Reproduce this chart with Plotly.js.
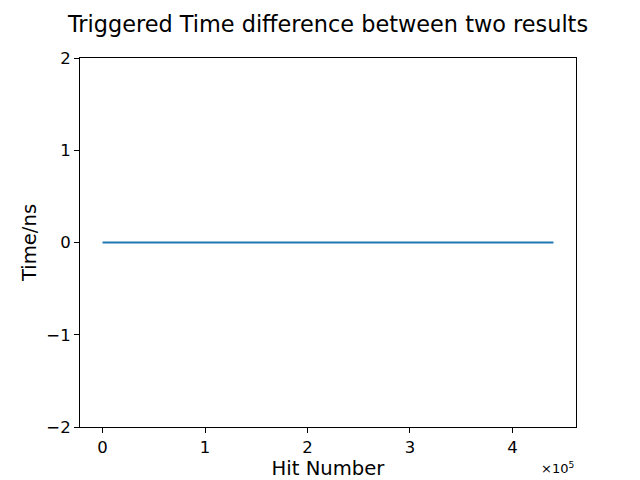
<!DOCTYPE html>
<html>
<head>
<meta charset="utf-8">
<script src="https://cdn.plot.ly/plotly-3.0.1.min.js"></script>
<style>html,body{margin:0;padding:0;background:#fff;}#chart{width:640px;height:480px;}</style>
</head>
<body>
<div id="chart"></div>
<script>
// Data
const hitNumber = [0, 100000, 200000, 300000, 400000, 440000];
const timeDiff = [0, 0, 0, 0, 0, 0];
const xTickVals = [0, 100000, 200000, 300000, 400000];
const xTickText = ["0", "1", "2", "3", "4"];
const yTickVals = [-2, -1, 0, 1, 2];
const yTickText = ["\u22122", "\u22121", "0", "1", "2"];

const font = "DejaVu Sans, sans-serif";

const trace = {
  x: hitNumber,
  y: timeDiff,
  type: "scatter",
  mode: "lines",
  line: {color: "#1f77b4", width: 2},
  hoverinfo: "skip"
};

const axisCommon = {
  showgrid: false,
  zeroline: false,
  showline: true,
  linecolor: "#000",
  linewidth: 1,
  mirror: true,
  ticks: "outside",
  ticklen: 5,
  tickwidth: 1,
  tickcolor: "#000",
  tickfont: {family: font, size: 16.5, color: "#000"}
};

const layout = {
  width: 640,
  height: 480,
  paper_bgcolor: "#fff",
  plot_bgcolor: "#fff",
  margin: {l: 80, r: 64, t: 58, b: 53},
  showlegend: false,
  title: {
    text: "Triggered Time difference between two results",
    font: {family: font, size: 22.4, color: "#000"},
    xref: "paper", x: 0.5, xanchor: "center",
    y: 1 - 24/480, yanchor: "middle", yref: "container"
  },
  xaxis: Object.assign({}, axisCommon, {
    range: [-22000, 462000],
    tickvals: xTickVals,
    ticktext: xTickText,
    title: {text: "Hit Number", font: {family: font, size: 19.6, color: "#000"}, standoff: 5}
  }),
  yaxis: Object.assign({}, axisCommon, {
    range: [-2, 2],
    tickvals: yTickVals,
    ticktext: yTickText,
    title: {text: "Time/ns", font: {family: font, size: 19.6, color: "#000"}, standoff: 4}
  }),
  annotations: [{
    text: "\u00d710<sup>5</sup>",
    xref: "paper", yref: "paper",
    x: 1, y: -0.112,
    xanchor: "right", yanchor: "middle",
    showarrow: false,
    font: {family: font, size: 13, color: "#000"}
  }]
};

Plotly.newPlot("chart", [trace], layout, {staticPlot: true, displayModeBar: false});
</script>
</body>
</html>
